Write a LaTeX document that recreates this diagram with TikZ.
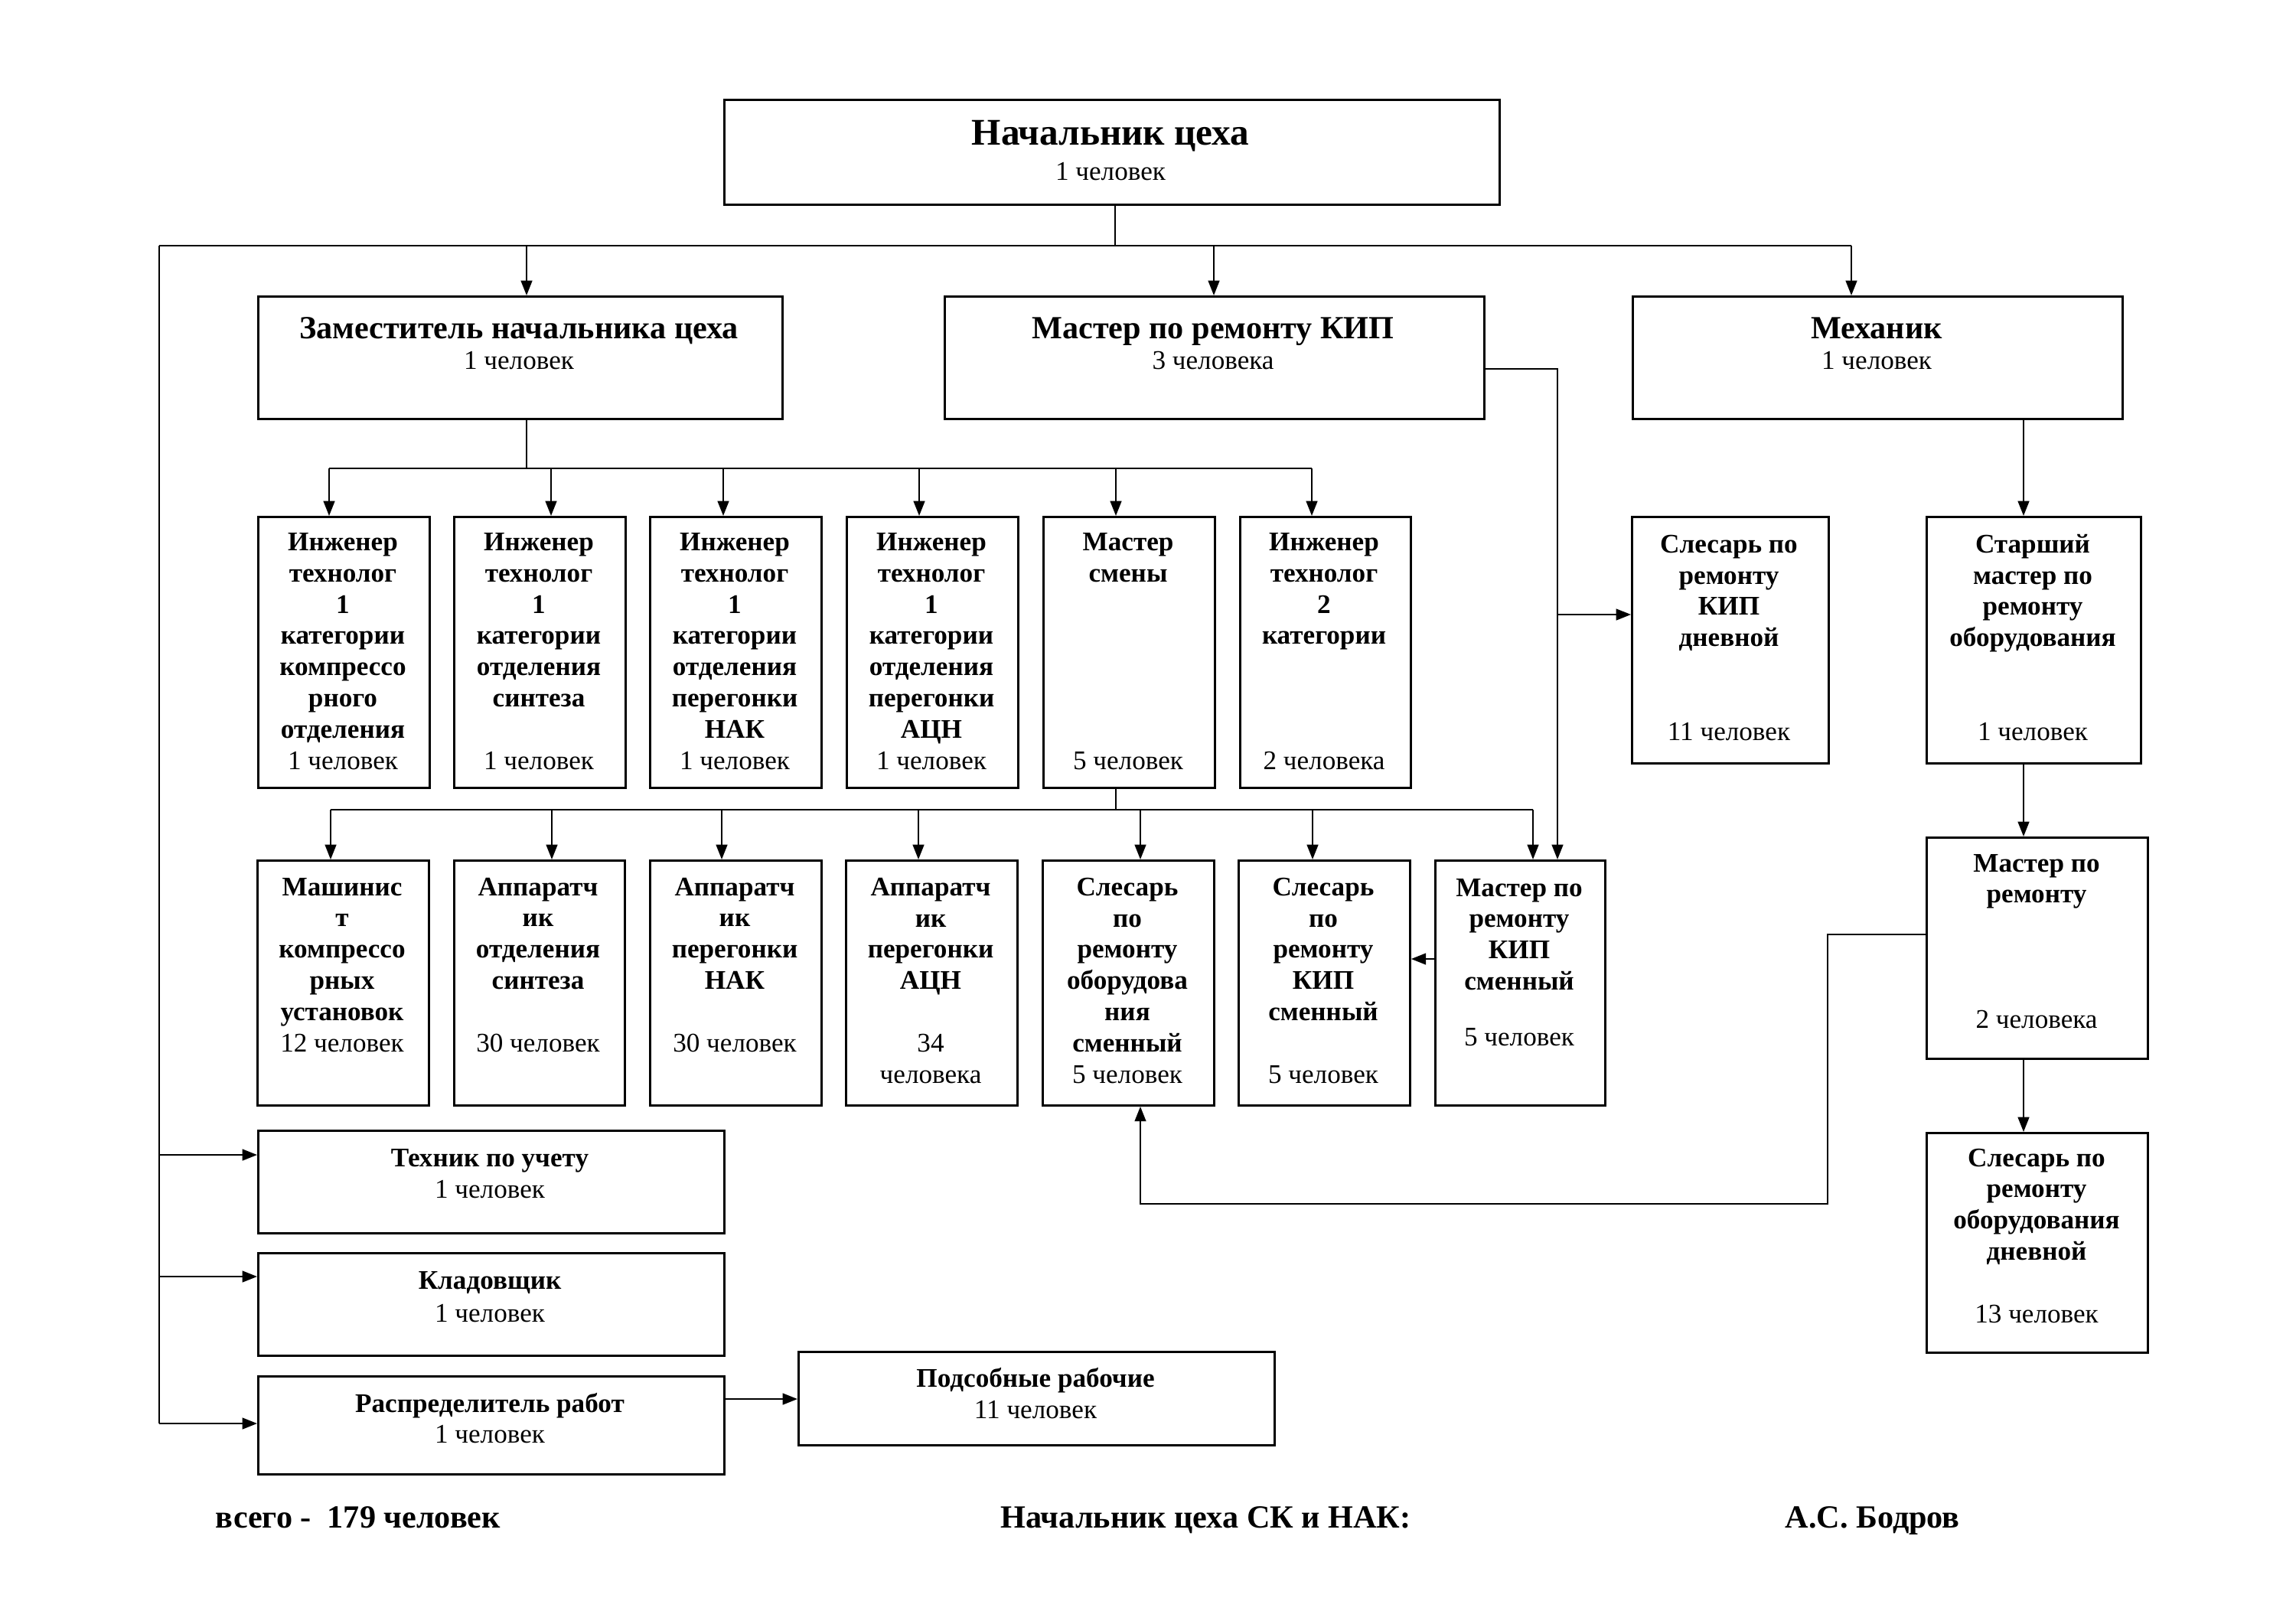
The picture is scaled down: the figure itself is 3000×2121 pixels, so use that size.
\documentclass[tikz,border=0pt]{standalone}
\usepackage{fontspec}
\setmainfont{Liberation Serif}
\usetikzlibrary{arrows.meta}
\newcommand\orgbox[5]{\node[box, minimum width={(#4-#2)*0.01cm}, minimum height={(#5-#3)*0.01cm}] (#1) at (#2,#3) {};}
\begin{document}
\begin{tikzpicture}[x=0.01cm,y=-0.01cm,
  box/.style={draw, line width=0.8pt, inner sep=0pt, anchor=north west},
  ttl/.style={anchor=base, align=center, inner sep=0pt, font=\fontsize{10}{11.6}\selectfont\bfseries},
  cnt/.style={anchor=base, inner sep=0pt, font=\fontsize{10}{11.6}\selectfont},
  hdr/.style={anchor=base, inner sep=0pt, font=\fontsize{12}{14}\selectfont\bfseries},
  foot/.style={anchor=base west, inner sep=0pt, font=\fontsize{12}{14}\selectfont\bfseries},
  con/.style={line width=0.6pt},
  arr/.style={con, -{Triangle[length=5.5pt,width=4.2pt]}},
]
\useasboundingbox[fill=white] (0,0) rectangle (3000,2121);

% ---------- boxes ----------
\orgbox{top}{945}{129}{1958}{266}
\orgbox{zam}{336}{386}{1021}{546}
\orgbox{kip}{1233}{386}{1938}{546}
\orgbox{mech}{2132}{386}{2772}{546}

\orgbox{b31}{336}{674}{560}{1028}
\orgbox{b32}{592}{674}{816}{1028}
\orgbox{b33}{848}{674}{1072}{1028}
\orgbox{b34}{1105}{674}{1329}{1028}
\orgbox{b35}{1362}{674}{1586}{1028}
\orgbox{b36}{1619}{674}{1842}{1028}
\orgbox{sd}{2131}{674}{2388}{996}
\orgbox{sm}{2516}{674}{2796}{996}

\orgbox{b41}{335}{1123}{559}{1443}
\orgbox{b42}{592}{1123}{815}{1443}
\orgbox{b43}{848}{1123}{1072}{1443}
\orgbox{b44}{1104}{1123}{1328}{1443}
\orgbox{b45}{1361}{1123}{1585}{1443}
\orgbox{b46}{1617}{1123}{1841}{1443}
\orgbox{b47}{1874}{1123}{2096}{1443}
\orgbox{mr}{2516}{1093}{2805}{1382}
\orgbox{sdn}{2516}{1479}{2805}{1766}

\orgbox{tech}{336}{1476}{945}{1610}
\orgbox{klad}{336}{1636}{945}{1770}
\orgbox{rasp}{336}{1797}{945}{1925}
\orgbox{pods}{1042}{1765}{1664}{1887}

% ---------- texts (anchor = baseline of last line) ----------
\node[anchor=base, inner sep=0pt, font=\fontsize{14}{16}\selectfont\bfseries] (topT) at (1451,189) {Начальник цеха};
\node[cnt] (topC) at (1451,235) {1 человек};
\node[hdr] (zamT) at (678,442) {Заместитель начальника цеха};
\node[cnt] (zamC) at (678,482) {1 человек};
\node[hdr] (kipT) at (1585,442) {Мастер по ремонту КИП};
\node[cnt] (kipC) at (1585,482) {3 человека};
\node[hdr] (mechT) at (2452,442) {Механик};
\node[cnt] (mechC) at (2452,482) {1 человек};

\node[ttl] (b31T) at (448,1005) {Инженер\\технолог\\1\\категории\\компрессо\\рного\\отделения\\{\mdseries 1 человек}};
\node[ttl] (b32T) at (704,1005) {Инженер\\технолог\\1\\категории\\отделения\\синтеза\\[11.6pt]{\mdseries 1 человек}};
\node[ttl] (b33T) at (960,1005) {Инженер\\технолог\\1\\категории\\отделения\\перегонки\\НАК\\{\mdseries 1 человек}};
\node[ttl] (b34T) at (1217,1005) {Инженер\\технолог\\1\\категории\\отделения\\перегонки\\АЦН\\{\mdseries 1 человек}};
\node[ttl] (b35T) at (1474,1005) {Мастер\\смены\\[58pt]{\mdseries 5 человек}};
\node[ttl] (b36T) at (1730,1005) {Инженер\\технолог\\2\\категории\\[34.8pt]{\mdseries 2 человека}};
\node[ttl] (sdT) at (2259,967) {Слесарь по\\ремонту\\КИП\\дневной\\[23.2pt]{\mdseries 11 человек}};
\node[ttl] (smT) at (2656,967) {Старший\\мастер по\\ремонту\\оборудования\\[23.2pt]{\mdseries 1 человек}};

\node[ttl] (b41T) at (447,1374) {Машинис\\т\\компрессо\\рных\\установок\\{\mdseries 12 человек}};
\node[ttl] (b42T) at (703,1374) {Аппаратч\\ик\\отделения\\синтеза\\[11.6pt]{\mdseries 30 человек}};
\node[ttl] (b43T) at (960,1374) {Аппаратч\\ик\\перегонки\\НАК\\[11.6pt]{\mdseries 30 человек}};
\node[ttl] (b44T) at (1216,1415) {Аппаратч\\ик\\перегонки\\АЦН\\[11.6pt]{\mdseries 34}\\{\mdseries человека}};
\node[ttl] (b45T) at (1473,1415) {Слесарь\\по\\ремонту\\оборудова\\ния\\сменный\\{\mdseries 5 человек}};
\node[ttl] (b46T) at (1729,1415) {Слесарь\\по\\ремонту\\КИП\\сменный\\[11.6pt]{\mdseries 5 человек}};
\node[ttl] (b47T) at (1985,1366) {Мастер по\\ремонту\\КИП\\сменный\\[9pt]{\mdseries 5 человек}};
\node[ttl] (mrT) at (2661,1343) {Мастер по\\ремонту\\[34.8pt]{\mdseries 2 человека}};
\node[ttl] (sdnT) at (2661,1728) {Слесарь по\\ремонту\\оборудования\\дневной\\[11.6pt]{\mdseries 13 человек}};

\node[ttl] (techT) at (640,1524) {Техник по учету};
\node[cnt] (techC) at (640,1565) {1 человек};
\node[ttl] (kladT) at (640,1684) {Кладовщик};
\node[cnt] (kladC) at (640,1727) {1 человек};
\node[ttl] (raspT) at (640,1845) {Распределитель работ};
\node[cnt] (raspC) at (640,1885) {1 человек};
\node[ttl] (podsT) at (1353,1812) {Подсобные рабочие};
\node[cnt] (podsC) at (1353,1853) {11 человек};

\node[foot] (f1) at (281,1996) {всего -\ \ 179 человек};
\node[foot] (f2) at (1307,1996) {Начальник цеха СК и НАК:};
\node[foot] (f3) at (2332,1996) {А.С. Бодров};

% ---------- connectors ----------
\coordinate (busL) at (208,321);
\coordinate (busC) at (1457,321);
\coordinate (busR) at (2419,321);
\draw[con] (busC |- top.south) -- (busC);
\draw[con] (busL) -- (busR);
\coordinate (a1) at (688,321);
\coordinate (a2) at (1586,321);
\draw[arr] (a1) -- (a1 |- zam.north);
\draw[arr] (a2) -- (a2 |- kip.north);
\draw[arr] (busR) -- (busR |- mech.north);

% row 3 bus
\coordinate (zb) at (688,612);
\coordinate (r3L) at (430,612);
\coordinate (r3R) at (1714,612);
\draw[con] (zb |- zam.south) -- (zb);
\draw[con] (r3L) -- (r3R);
\coordinate (c2) at (720,612);
\coordinate (c3) at (945,612);
\coordinate (c4) at (1201,612);
\coordinate (c5) at (1458,612);
\draw[arr] (r3L) -- (r3L |- b31.north);
\draw[arr] (c2) -- (c2 |- b32.north);
\draw[arr] (c3) -- (c3 |- b33.north);
\draw[arr] (c4) -- (c4 |- b34.north);
\draw[arr] (c5) -- (c5 |- b35.north);
\draw[arr] (r3R) -- (r3R |- b36.north);

% row 4 bus
\coordinate (ms) at (1458,1058);
\coordinate (r4L) at (432,1058);
\coordinate (r4R) at (2003,1058);
\draw[con] (ms |- b35.south) -- (ms);
\draw[con] (r4L) -- (r4R);
\coordinate (d2) at (721,1058);
\coordinate (d3) at (943,1058);
\coordinate (d4) at (1200,1058);
\coordinate (d5) at (1490,1058);
\coordinate (d6) at (1715,1058);
\draw[arr] (r4L) -- (r4L |- b41.north);
\draw[arr] (d2) -- (d2 |- b42.north);
\draw[arr] (d3) -- (d3 |- b43.north);
\draw[arr] (d4) -- (d4 |- b44.north);
\draw[arr] (d5) -- (d5 |- b45.north);
\draw[arr] (d6) -- (d6 |- b46.north);
\draw[arr] (r4R) -- (r4R |- b47.north);

% KIP line
\coordinate (k1) at (2035,482);
\coordinate (k2) at (2035,803);
\draw[arr] (kip.east |- k1) -- (k1) -- (k1 |- b47.north);
\draw[arr] (k2) -- (k2 -| sd.west);
\coordinate (q1) at (1900,1253);
\draw[arr] (b47.west |- q1) -- (b46.east |- q1);

% mechanic chain
\coordinate (m1) at (2644,600);
\draw[arr] (mech.south -| m1) -- (sm.north -| m1);
\draw[arr] (sm.south -| m1) -- (mr.north -| m1);
\draw[arr] (mr.south -| m1) -- (sdn.north -| m1);
\coordinate (p1) at (2388,1221);
\coordinate (p2) at (2388,1573);
\coordinate (p3) at (1490,1573);
\draw[arr] (mr.west |- p1) -- (p1) -- (p2) -- (p3) -- (p3 |- b45.south);

% left side
\coordinate (L1) at (208,1509);
\coordinate (L2) at (208,1668);
\coordinate (L3) at (208,1860);
\draw[con] (busL) -- (L3);
\draw[arr] (L1) -- (L1 -| tech.west);
\draw[arr] (L2) -- (L2 -| klad.west);
\draw[arr] (L3) -- (L3 -| rasp.west);
\coordinate (r1) at (1000,1828);
\draw[arr] (rasp.east |- r1) -- (pods.west |- r1);
\end{tikzpicture}
\end{document}
